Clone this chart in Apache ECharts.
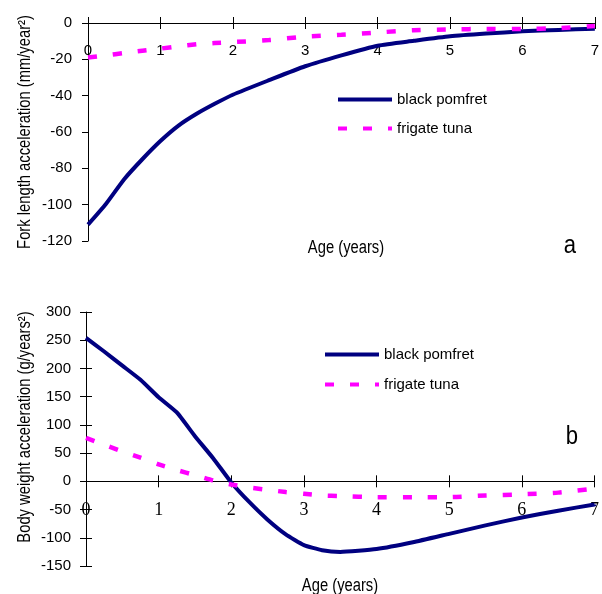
<!DOCTYPE html>
<html>
<head>
<meta charset="utf-8">
<script src="https://cdn.jsdelivr.net/npm/echarts@6/dist/echarts.min.js"></script>
<style>
html,body{margin:0;padding:0;background:#fff;}
#chart{width:602px;height:594px;}
</style>
</head>
<body>
<div id="chart"></div>
<script>
// ---- data ----
var agesA = [0, 0.25, 0.5, 0.75, 1, 1.25, 1.5, 1.75, 2, 2.5, 3, 3.5, 4, 4.5, 5, 5.5, 6, 6.5, 7];
var pomfretFL = [-111, -99.5, -86, -75, -65, -56.5, -50, -44.5, -39.5, -31.5, -23.8, -17.8, -12.5, -9.8, -7.3, -5.8, -4.6, -3.8, -3.1];
var tunaFL = [-19, -17.8, -16.5, -15.3, -14.1, -12.8, -11.7, -11, -10.5, -9.4, -7.5, -6.5, -5.2, -4.0, -3.5, -3.3, -3.3, -2.8, -1.6];

var agesB = [0, 0.25, 0.5, 0.75, 1, 1.25, 1.5, 1.75, 2, 2.25, 2.5, 2.75, 3, 3.25, 3.5, 4, 4.5, 5, 5.5, 6, 6.5, 7];
var pomfretBW = [254, 230, 205, 180, 149, 122, 80, 41, -2, -37, -68, -94, -113, -122, -125, -120, -108, -93, -78, -64, -52, -41];
var tunaBW = [77, 65, 53, 42, 30, 20, 11, 1.5, -5.5, -11, -15, -19, -22, -25, -26, -28, -28, -28, -25, -23, -20, -13];

var seriesNames = ['black pomfret', 'frigate tuna'];
var yRangeA = [-120, 0], yRangeB = [-150, 300];

function pairs(xs, ys) { return xs.map(function (x, i) { return [x, ys[i]]; }); }

var NAVY = '#000080', MAG = '#FF00FF';
var SANS = '"Liberation Sans", Arial, sans-serif';
var SERIF = '"Liberation Serif", "Times New Roman", serif';

var gridA = {left: 88, right: 4, top: 23, height: 218};
var gridB = {left: 86, right: 2, top: 312, height: 254};
// x axis sits at y = 0 of the value axis
function zeroOffset(range, h) { return -((0 - range[0]) / (range[1] - range[0])) * h; }

var chart = echarts.init(document.getElementById('chart'), null, {renderer: 'canvas'});

function xAx(grid, fam, main, off) {
  return {
    type: 'value', gridIndex: grid, min: 0, max: 7, interval: 1,
    position: 'bottom', offset: off,
    axisLine: {show: main, onZero: false, lineStyle: {color: '#000', width: 1}},
    axisTick: {show: true, inside: !main, length: 6, lineStyle: {color: '#000'}},
    axisLabel: {show: main, margin: 20, color: '#000', fontFamily: fam, fontSize: fam === SERIF ? 18 : 15},
    splitLine: {show: false}
  };
}
var offA = zeroOffset(yRangeA, gridA.height), offB = zeroOffset(yRangeB, gridB.height);

var option = {
  animation: false,
  backgroundColor: '#fff',
  grid: [gridA, gridB],
  xAxis: [
    xAx(0, SANS, true, offA),
    xAx(1, SERIF, true, offB),
    xAx(0, SANS, false, offA),
    xAx(1, SERIF, false, offB)
  ],
  yAxis: [
    {type: 'value', gridIndex: 0, min: yRangeA[0], max: yRangeA[1], interval: 20, position: 'left',
     axisLine: {show: true, onZero: false, lineStyle: {color: '#000'}},
     axisTick: {show: true, length: 6, lineStyle: {color: '#000'}},
     axisLabel: {margin: 16, color: '#000', fontFamily: SANS, fontSize: 15},
     splitLine: {show: false}},
    {type: 'value', gridIndex: 1, min: yRangeB[0], max: yRangeB[1], interval: 50, position: 'left',
     axisLine: {show: true, onZero: false, lineStyle: {color: '#000'}},
     axisTick: {show: true, length: 6, lineStyle: {color: '#000'}},
     axisLabel: {margin: 15, color: '#000', fontFamily: SANS, fontSize: 15},
     splitLine: {show: false}},
    {type: 'value', gridIndex: 1, min: yRangeB[0], max: yRangeB[1], interval: 50, position: 'left',
     axisLine: {show: false, onZero: false},
     axisTick: {show: true, inside: true, length: 6, lineStyle: {color: '#000'}},
     axisLabel: {show: false},
     splitLine: {show: false}}
  ],
  legend: [
    {orient: 'vertical', left: 331, top: 87, itemWidth: 54, itemHeight: 8, itemGap: 14,
     data: seriesNames, itemStyle: {color: 'transparent', borderWidth: 0, opacity: 0},
     lineStyle: {width: 4},
     textStyle: {fontFamily: SANS, fontSize: 15, color: '#000'}},
    {orient: 'vertical', left: 318, top: 342, itemWidth: 54, itemHeight: 8, itemGap: 15,
     data: seriesNames, itemStyle: {color: 'transparent', borderWidth: 0, opacity: 0},
     lineStyle: {width: 4},
     textStyle: {fontFamily: SANS, fontSize: 15, color: '#000'}}
  ],
  series: [
    {name: seriesNames[0], type: 'line', xAxisIndex: 0, yAxisIndex: 0, data: pairs(agesA, pomfretFL),
     symbol: 'none', smooth: 0.2, lineStyle: {color: NAVY, width: 4}, itemStyle: {color: NAVY}},
    {name: seriesNames[1], type: 'line', xAxisIndex: 0, yAxisIndex: 0, data: pairs(agesA, tunaFL),
     symbol: 'none', smooth: 0.2, lineStyle: {color: MAG, width: 4.5, type: [9, 16]}, itemStyle: {color: MAG}},
    {name: seriesNames[0], type: 'line', xAxisIndex: 1, yAxisIndex: 1, data: pairs(agesB, pomfretBW),
     symbol: 'none', smooth: 0.15, lineStyle: {color: NAVY, width: 4}, itemStyle: {color: NAVY}},
    {name: seriesNames[1], type: 'line', xAxisIndex: 1, yAxisIndex: 1, data: pairs(agesB, tunaBW),
     symbol: 'none', smooth: 0.2, lineStyle: {color: MAG, width: 4.5, type: [9, 16]}, itemStyle: {color: MAG}}
  ],
  graphic: [
    {type: 'text', x: 25, y: 132, rotation: Math.PI / 2, scaleX: 0.82,
     style: {text: 'Fork length acceleration (mm/year²)', fontFamily: SANS, fontSize: 18, fill: '#000', textAlign: 'center', textVerticalAlign: 'middle'}},
    {type: 'text', x: 25, y: 427, rotation: Math.PI / 2, scaleX: 0.82,
     style: {text: 'Body weight acceleration (g/years²)', fontFamily: SANS, fontSize: 18, fill: '#000', textAlign: 'center', textVerticalAlign: 'middle'}},
    {type: 'text', x: 346, y: 248, scaleX: 0.82,
     style: {text: 'Age (years)', fontFamily: SANS, fontSize: 18, fill: '#000', textAlign: 'center', textVerticalAlign: 'middle'}},
    {type: 'text', x: 340, y: 586, scaleX: 0.82,
     style: {text: 'Age (years)', fontFamily: SANS, fontSize: 18, fill: '#000', textAlign: 'center', textVerticalAlign: 'middle'}},
    {type: 'text', x: 570, y: 246, scaleX: 0.85,
     style: {text: 'a', fontFamily: SANS, fontSize: 26, fill: '#000', textAlign: 'center', textVerticalAlign: 'middle'}},
    {type: 'text', x: 572, y: 437, scaleX: 0.85,
     style: {text: 'b', fontFamily: SANS, fontSize: 26, fill: '#000', textAlign: 'center', textVerticalAlign: 'middle'}}
  ]
};
chart.setOption(option);
</script>
</body>
</html>
